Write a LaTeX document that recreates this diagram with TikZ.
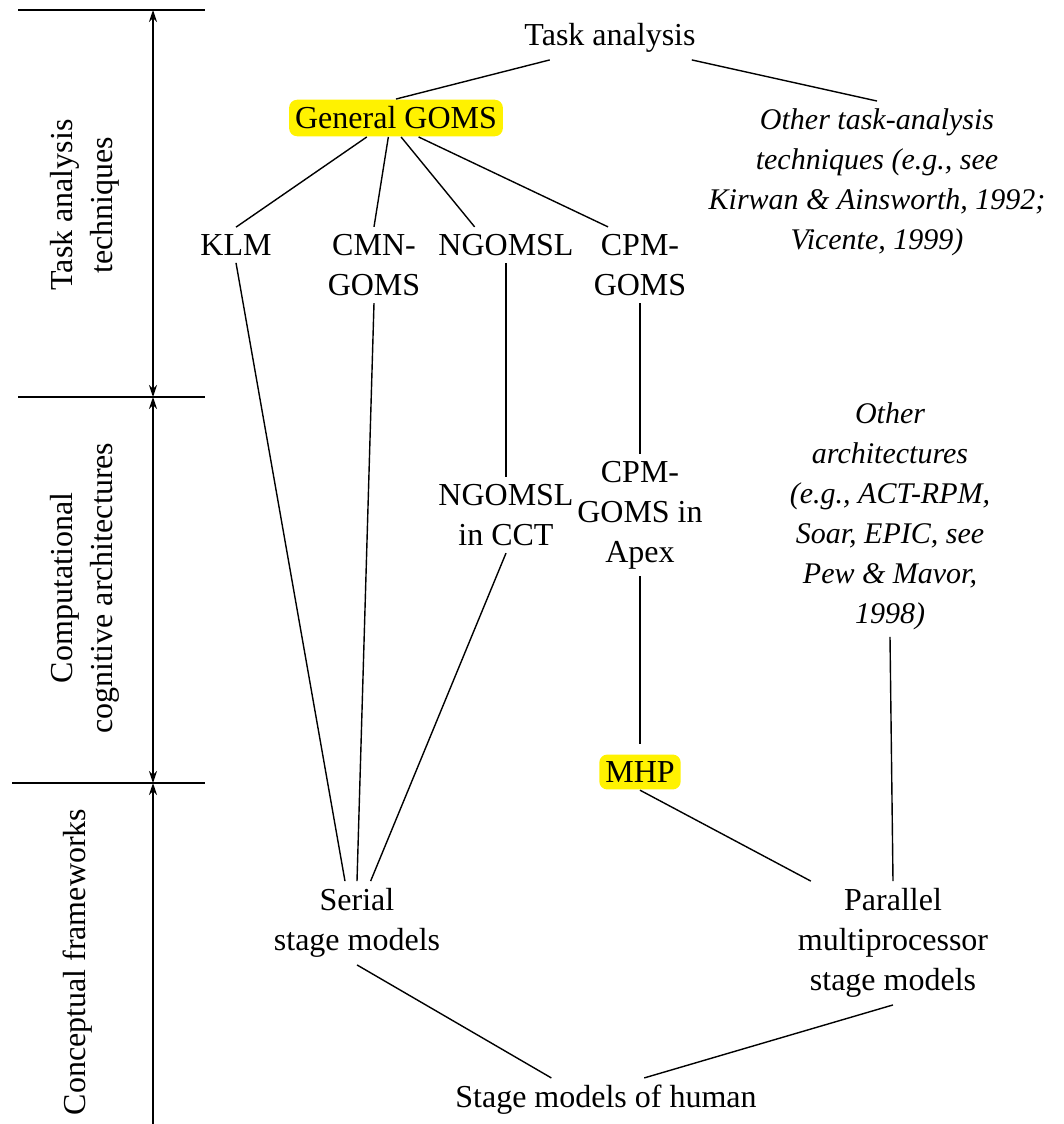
\documentclass[tikz,border=0pt]{standalone}
\usepackage{fontspec}
\setmainfont{Liberation Serif}
\usetikzlibrary{arrows.meta, positioning}

\begin{document}
\begin{tikzpicture}[x=0.5pt, y=-0.5pt, line width=0.7pt,
  >={Stealth[length=6pt, width=4pt]},
  arro/.style = {<->}, arrup/.style = {->}]

\tikzstyle{txt} = [font=\fontsize{16}{20}\selectfont, align=center]
\tikzstyle{txti} = [font=\fontsize{15}{20}\selectfont\itshape, align=center]
\tikzstyle{hl} = [txt, fill=yellow, rounded corners=4pt, inner xsep=3pt, inner ysep=3.5pt]

\useasboundingbox (0,0) rectangle (1064,1124);

% levels
\draw (18,10) -- (205,10);
\draw (18,397) -- (205,397);
\draw (12,783) -- (205,783);
\coordinate (a0) at (153,10);
\coordinate (a1) at (153,397);
\coordinate (a2) at (153,783);
\coordinate (a3) at (153,1140);
\draw[arro] (a0) -- (a1);
\draw[arro] (a1) -- (a2);
\draw[arrup] (a3) -- (a2);
\node[txt, rotate=90] at (85,205) (lvltask) {Task analysis\\techniques};
\node[txt, rotate=90] at (85,588) (lvlarch) {Computational\\cognitive architectures};
\node[txt, rotate=90] at (78,962) (lvlconc) {Conceptual frameworks};

% task analysis
\node[txt] at (610,38) (task) {Task analysis};
\node[hl] at (396,118) (gg) {General GOMS};
\node[txti] at (877,182) (othertask) {Other task-analysis\\techniques (e.g., see\\Kirwan \& Ainsworth, 1992;\\Vicente, 1999)};
% connections
\draw (task.200) -- (gg.north);
\draw (task.345) -- (othertask.north);
% goms variants
\node[txt] at (236,245) (klm) {KLM};
\node[txt] at (374,265) (cmn) {CMN-\\GOMS};
\node[txt] at (506,245) (ngomsl) {NGOMSL};
\node[txt] at (640,265) (cpm) {CPM-\\GOMS};
% connections
\draw (gg.213) -- (klm.north);
\draw (gg.248) -- (cmn.north);
\draw (gg.285) -- (ngomsl.150);
\draw (gg.320) -- (cpm.130);

% architectures
\node[txt] at (506,515) (cct) {NGOMSL\\in CCT};
\node[txt] at (640,515) (apex) {CPM-\\GOMS in\\Apex};
\node[txti] at (890,516) (otherarch) {Other\\architectures\\(e.g., ACT-RPM,\\Soar, EPIC, see\\Pew \& Mavor,\\1998)};
\node[hl] at (640,772) (mhp) {MHP};
% connections
\draw (ngomsl.south) -- (cct.north);
\draw (cpm.south) -- (apex.north);
\draw[shorten >=5pt] (apex.south) -- (mhp.north);

% frameworks
\node[txt] at (357,923) (serial) {Serial\\stage models};
\node[txt] at (893,943) (parallel) {Parallel\\multiprocessor\\stage models};
\node[txt] at (606,1100) (stage) {Stage models of human};
% connections
\draw (klm.south) -- (serial.106);
\draw (cmn.south) -- (serial.north);
\draw (cct.south) -- (serial.72);
\draw (mhp.south) -- (parallel.143);
\draw (otherarch.south) -- (parallel.north);
\draw (serial.south) -- (stage.158);
\draw (parallel.south) -- (stage.30);
\end{tikzpicture}
\end{document}
